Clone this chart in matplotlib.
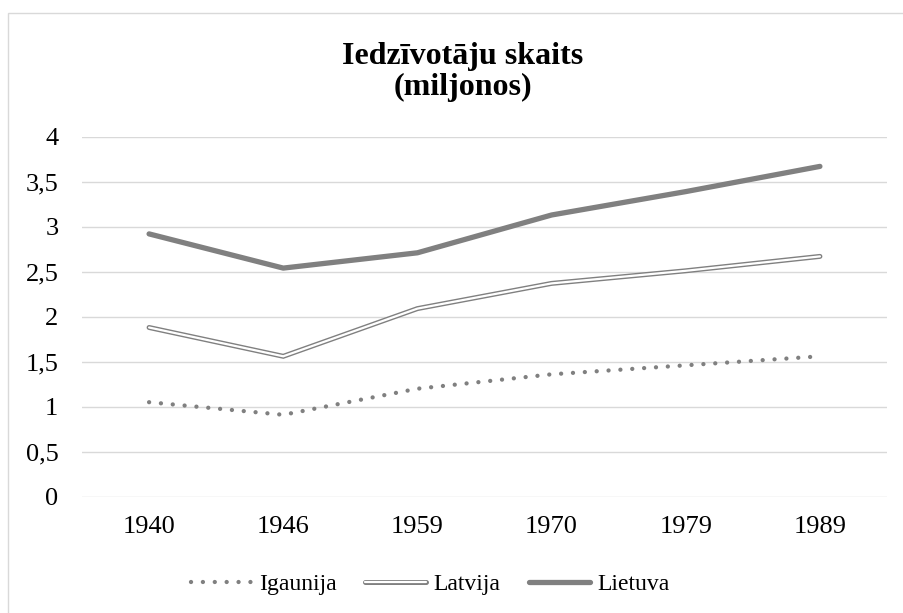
import matplotlib
matplotlib.use("Agg")
import matplotlib.pyplot as plt
from matplotlib.patches import Rectangle
from matplotlib.legend_handler import HandlerTuple
from matplotlib.ticker import FuncFormatter

plt.rcParams['font.family'] = ['Liberation Serif', 'DejaVu Serif']

# dati
years = ['1940', '1946', '1959', '1970', '1979', '1989']
igaunija = [1.05, 0.91, 1.20, 1.36, 1.46, 1.56]
latvija = [1.88, 1.56, 2.09, 2.37, 2.51, 2.67]
lietuva = [2.92, 2.54, 2.71, 3.13, 3.39, 3.67]

GRAY = '#808080'
W, H = 904, 613

fig = plt.figure(figsize=(W / 100, H / 100), dpi=100)
ax = fig.add_axes([82 / W, 1 - 496.7 / H, (887 - 82) / W, (496.7 - 136.7) / H])

x = range(len(years))
l_ig, = ax.plot(x, igaunija, color=GRAY, lw=3.1, linestyle=(0, (0.01, 2.75)),
                dash_capstyle='round', solid_capstyle='round')
l_lv_out, = ax.plot(x, latvija, color=GRAY, lw=3.6, solid_capstyle='round',
                    solid_joinstyle='miter')
l_lv_in, = ax.plot(x, latvija, color='white', lw=1.6, solid_capstyle='round',
                   solid_joinstyle='miter')
l_lt, = ax.plot(x, lietuva, color=GRAY, lw=3.8, solid_capstyle='round')

ax.set_xlim(-0.5, len(years) - 0.5)
ax.set_ylim(0, 4)
ax.set_xticks(list(x))
ax.set_xticklabels(years)
ax.set_yticks([i * 0.5 for i in range(9)])
ax.yaxis.set_major_formatter(FuncFormatter(lambda v, p: f"{v:g}".replace('.', ',')))
ax.tick_params(length=0, labelsize=19, colors='black')
ax.tick_params(axis='y', pad=17)
ax.tick_params(axis='x', pad=14)
ax.grid(axis='y', color='#d9d9d9', lw=1.0)
ax.set_axisbelow(True)
for s in ax.spines.values():
    s.set_visible(False)

fig.text(463 / W, 1 - 72 / H, "Iedzīvotāju skaits\n(miljonos)", ha='center', va='center',
         fontsize=23, fontweight='bold', linespacing=1.12)

leg = fig.legend([l_ig, (l_lv_out, l_lv_in), l_lt], ['Igaunija', 'Latvija', 'Lietuva'],
                 handler_map={tuple: HandlerTuple(ndivide=1)},
                 loc='center', bbox_to_anchor=(430 / W, 1 - 584 / H), ncol=3,
                 frameon=False, prop={'family': 'Liberation Serif', 'size': 17},
                 handlelength=2.6, handletextpad=0.3, columnspacing=1.2)

# rāmis ap diagrammu
fig.patches.append(Rectangle((8 / W, -0.01), 1.01 - 8 / W, 1 - 13 / H + 0.01,
                             transform=fig.transFigure, fill=False,
                             edgecolor='#d9d9d9', lw=1.0))

fig.savefig('out.png', dpi=100)
